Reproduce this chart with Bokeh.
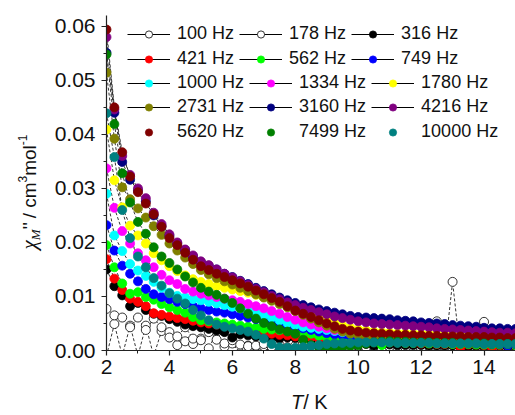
from bokeh.plotting import figure
from bokeh.models import (Range1d, SingleIntervalTicker, NumeralTickFormatter,
                          Legend, LegendItem, Div)
from bokeh.layouts import row, column
from bokeh.embed import file_html
from bokeh.resources import INLINE

# ---------------- data ----------------
temperature = [2.00, 2.25, 2.50, 2.75, 3.00, 3.25, 3.50, 3.75, 4.00, 4.25, 4.50,
               4.75, 5.00, 5.25, 5.50, 5.75, 6.00, 6.25, 6.50, 6.75, 7.00, 7.25,
               7.50, 7.75, 8.00, 8.25, 8.50, 8.75, 9.00, 9.25, 9.50, 9.75, 10.00,
               10.25, 10.50, 10.75, 11.00, 11.25, 11.50, 11.75, 12.00, 12.25, 12.50,
               12.75, 13.00, 13.25, 13.50, 13.75, 14.00, 14.25, 14.50, 14.75, 15.00]

chi_100 = [-0.0010, 0.0049, -0.0010, 0.0046, -0.0010, 0.0046, -0.0010, 0.0036, 0.0034, 0.0010,
           0.0017, 0.0012, 0.0022, 0.0004, 0.0034, 0.0007, 0.0013, -0.0005, 0.0009, -0.0005,
           0.0008, -0.0005, 0.0005, -0.0005, 0.0006, -0.0005, 0.0004, -0.0005, 0.0005, -0.0005,
           0.0003, 0.0015, -0.0005, 0.0004, -0.0005, 0.0006, -0.0005, 0.0003, -0.0005, 0.0004,
           -0.0005, 0.0003, 0.0054, -0.0005, 0.0127, -0.0005, 0.0006, -0.0005, 0.0053, -0.0005,
           0.0004, -0.0005, 0.0005]
chi_178 = [0.0077, 0.0065, 0.0061, 0.0043, 0.0061, 0.0038, 0.0059, 0.0043, 0.0024, 0.0026,
           0.0043, 0.0022, 0.0019, 0.0034, 0.0020, 0.0013, 0.0019, 0.0011, 0.0008, 0.0009,
           0.0012, 0.0007, 0.0010, 0.0006, 0.0009, 0.0012, 0.0005, 0.0007, 0.0011, 0.0006,
           0.0008, 0.0005, 0.0009, 0.0006, 0.0008, 0.0005, 0.0007, 0.0009, 0.0006, 0.0007,
           0.0005, 0.0008, 0.0006, 0.0007, 0.0005, 0.0006, 0.0008, 0.0005, 0.0007, 0.0006,
           0.0012, 0.0007, 0.0006]
chi_316 = [0.0150, 0.0119, 0.0102, 0.0082, 0.0088, 0.0075, 0.0068, 0.0064, 0.0058, 0.0053,
           0.0048, 0.0045, 0.0043, 0.0040, 0.0037, 0.0034, 0.0024, 0.0030, 0.0028, 0.0026,
           0.0024, 0.0023, 0.0022, 0.0024, 0.0023, 0.0022, 0.0020, 0.0028, 0.0018, 0.0016,
           0.0015, 0.0014, 0.0013, 0.0012, 0.0009, 0.0011, 0.0011, 0.0010, 0.0010, 0.0010,
           0.0010, 0.0009, 0.0009, 0.0009, 0.0009, 0.0007, 0.0008, 0.0008, 0.0008, 0.0008,
           0.0008, 0.0008, 0.0008]
chi_421 = [0.0169, 0.0133, 0.0112, 0.0096, 0.0090, 0.0082, 0.0069, 0.0066, 0.0063, 0.0060,
           0.0058, 0.0055, 0.0052, 0.0050, 0.0048, 0.0046, 0.0044, 0.0042, 0.0039, 0.0036,
           0.0033, 0.0031, 0.0029, 0.0028, 0.0026, 0.0025, 0.0024, 0.0022, 0.0021, 0.0020,
           0.0019, 0.0019, 0.0018, 0.0017, 0.0017, 0.0016, 0.0015, 0.0015, 0.0014, 0.0014,
           0.0013, 0.0013, 0.0012, 0.0012, 0.0012, 0.0006, 0.0011, 0.0011, 0.0010, 0.0006,
           0.0010, 0.0010, 0.0010]
chi_562 = [0.0195, 0.0154, 0.0124, 0.0105, 0.0108, 0.0099, 0.0094, 0.0086, 0.0080, 0.0075,
           0.0070, 0.0062, 0.0056, 0.0054, 0.0052, 0.0050, 0.0048, 0.0046, 0.0044, 0.0042,
           0.0040, 0.0039, 0.0038, 0.0038, 0.0037, 0.0034, 0.0031, 0.0027, 0.0024, 0.0021,
           0.0019, 0.0018, 0.0018, 0.0017, 0.0016, 0.0010, 0.0015, 0.0015, 0.0014, 0.0014,
           0.0014, 0.0013, 0.0013, 0.0013, 0.0012, 0.0012, 0.0012, 0.0011, 0.0011, 0.0011,
           0.0011, 0.0010, 0.0010]
chi_749 = [0.0232, 0.0185, 0.0157, 0.0142, 0.0128, 0.0114, 0.0104, 0.0099, 0.0095, 0.0090,
           0.0086, 0.0082, 0.0078, 0.0075, 0.0072, 0.0070, 0.0067, 0.0064, 0.0061, 0.0058,
           0.0055, 0.0052, 0.0049, 0.0046, 0.0044, 0.0041, 0.0038, 0.0035, 0.0032, 0.0030,
           0.0028, 0.0026, 0.0025, 0.0024, 0.0023, 0.0022, 0.0021, 0.0020, 0.0020, 0.0019,
           0.0019, 0.0018, 0.0018, 0.0017, 0.0017, 0.0017, 0.0016, 0.0016, 0.0015, 0.0015,
           0.0014, 0.0009, 0.0012]
chi_1000 = [0.0290, 0.0213, 0.0184, 0.0160, 0.0148, 0.0138, 0.0127, 0.0116, 0.0107, 0.0101,
            0.0098, 0.0095, 0.0093, 0.0090, 0.0087, 0.0084, 0.0081, 0.0078, 0.0074, 0.0070,
            0.0066, 0.0061, 0.0056, 0.0051, 0.0047, 0.0044, 0.0042, 0.0040, 0.0038, 0.0036,
            0.0034, 0.0032, 0.0030, 0.0029, 0.0028, 0.0027, 0.0026, 0.0025, 0.0025, 0.0024,
            0.0024, 0.0023, 0.0023, 0.0022, 0.0022, 0.0022, 0.0021, 0.0021, 0.0021, 0.0020,
            0.0020, 0.0020, 0.0020]
chi_1334 = [0.0337, 0.0264, 0.0221, 0.0198, 0.0180, 0.0167, 0.0154, 0.0140, 0.0130, 0.0123,
            0.0114, 0.0109, 0.0105, 0.0102, 0.0099, 0.0096, 0.0093, 0.0090, 0.0086, 0.0082,
            0.0078, 0.0073, 0.0068, 0.0062, 0.0057, 0.0052, 0.0048, 0.0044, 0.0041, 0.0038,
            0.0036, 0.0035, 0.0034, 0.0033, 0.0032, 0.0031, 0.0030, 0.0029, 0.0029, 0.0028,
            0.0027, 0.0027, 0.0026, 0.0026, 0.0025, 0.0025, 0.0025, 0.0024, 0.0024, 0.0024,
            0.0023, 0.0023, 0.0023]
chi_1780 = [0.0409, 0.0315, 0.0265, 0.0231, 0.0213, 0.0198, 0.0180, 0.0167, 0.0156, 0.0147,
            0.0139, 0.0132, 0.0127, 0.0123, 0.0119, 0.0116, 0.0113, 0.0110, 0.0107, 0.0103,
            0.0099, 0.0094, 0.0089, 0.0084, 0.0079, 0.0073, 0.0067, 0.0061, 0.0056, 0.0051,
            0.0046, 0.0042, 0.0039, 0.0037, 0.0035, 0.0034, 0.0033, 0.0032, 0.0032, 0.0031,
            0.0031, 0.0030, 0.0030, 0.0029, 0.0029, 0.0029, 0.0028, 0.0028, 0.0028, 0.0027,
            0.0027, 0.0027, 0.0026]
chi_2731 = [0.0514, 0.0392, 0.0302, 0.0280, 0.0263, 0.0246, 0.0230, 0.0214, 0.0198, 0.0185,
            0.0172, 0.0160, 0.0149, 0.0141, 0.0134, 0.0128, 0.0122, 0.0116, 0.0110, 0.0104,
            0.0098, 0.0092, 0.0086, 0.0080, 0.0073, 0.0066, 0.0059, 0.0052, 0.0046, 0.0040,
            0.0035, 0.0031, 0.0028, 0.0026, 0.0025, 0.0024, 0.0023, 0.0022, 0.0021, 0.0021,
            0.0020, 0.0020, 0.0019, 0.0019, 0.0018, 0.0018, 0.0018, 0.0017, 0.0017, 0.0017,
            0.0016, 0.0016, 0.0016]
chi_3160 = [0.0551, 0.0440, 0.0349, 0.0316, 0.0296, 0.0276, 0.0250, 0.0230, 0.0212, 0.0198,
            0.0186, 0.0174, 0.0164, 0.0157, 0.0150, 0.0142, 0.0136, 0.0129, 0.0123, 0.0116,
            0.0110, 0.0104, 0.0098, 0.0093, 0.0088, 0.0084, 0.0080, 0.0076, 0.0073, 0.0070,
            0.0067, 0.0064, 0.0062, 0.0061, 0.0060, 0.0059, 0.0058, 0.0056, 0.0055, 0.0054,
            0.0052, 0.0051, 0.0050, 0.0049, 0.0047, 0.0046, 0.0045, 0.0044, 0.0042, 0.0041,
            0.0041, 0.0040, 0.0040]
chi_4216 = [0.0580, 0.0446, 0.0360, 0.0325, 0.0300, 0.0282, 0.0255, 0.0234, 0.0215, 0.0200,
            0.0187, 0.0176, 0.0165, 0.0158, 0.0150, 0.0142, 0.0135, 0.0128, 0.0121, 0.0114,
            0.0108, 0.0101, 0.0095, 0.0089, 0.0084, 0.0079, 0.0075, 0.0071, 0.0067, 0.0063,
            0.0060, 0.0057, 0.0054, 0.0052, 0.0050, 0.0049, 0.0048, 0.0047, 0.0046, 0.0045,
            0.0044, 0.0043, 0.0041, 0.0040, 0.0039, 0.0038, 0.0037, 0.0036, 0.0035, 0.0034,
            0.0033, 0.0033, 0.0032]
chi_5620 = [0.0594, 0.0450, 0.0367, 0.0322, 0.0293, 0.0272, 0.0252, 0.0229, 0.0208, 0.0195,
            0.0181, 0.0168, 0.0156, 0.0149, 0.0142, 0.0136, 0.0130, 0.0124, 0.0118, 0.0111,
            0.0104, 0.0097, 0.0090, 0.0082, 0.0074, 0.0068, 0.0062, 0.0056, 0.0050, 0.0045,
            0.0040, 0.0037, 0.0035, 0.0033, 0.0032, 0.0031, 0.0030, 0.0029, 0.0029, 0.0028,
            0.0028, 0.0027, 0.0027, 0.0026, 0.0026, 0.0026, 0.0025, 0.0025, 0.0025, 0.0024,
            0.0024, 0.0023, 0.0023]
chi_7499 = [0.0548, 0.0419, 0.0328, 0.0274, 0.0238, 0.0216, 0.0191, 0.0174, 0.0162, 0.0150,
            0.0137, 0.0126, 0.0116, 0.0109, 0.0103, 0.0096, 0.0088, 0.0078, 0.0068, 0.0059,
            0.0051, 0.0045, 0.0039, 0.0035, 0.0031, 0.0020, 0.0010, 0.0007, 0.0006, 0.0006,
            0.0007, 0.0008, 0.0010, 0.0013, 0.0015, 0.0016, 0.0017, 0.0016, 0.0016, 0.0015,
            0.0015, 0.0015, 0.0014, 0.0014, 0.0014, 0.0013, 0.0013, 0.0013, 0.0013, 0.0012,
            0.0012, 0.0012, 0.0012]
chi_10000 = [0.0439, 0.0358, 0.0260, 0.0208, 0.0174, 0.0154, 0.0134, 0.0120, 0.0106, 0.0096,
             0.0087, 0.0075, 0.0065, 0.0056, 0.0048, 0.0044, 0.0041, 0.0038, 0.0035, 0.0029,
             0.0022, 0.0012, 0.0006, 0.0005, 0.0005, 0.0006, 0.0008, 0.0010, 0.0012, 0.0013,
             0.0014, 0.0014, 0.0015, 0.0015, 0.0015, 0.0015, 0.0015, 0.0014, 0.0014, 0.0014,
             0.0014, 0.0014, 0.0013, 0.0013, 0.0013, 0.0013, 0.0013, 0.0013, 0.0012, 0.0012,
             0.0012, 0.0012, 0.0012]

frequency_labels = ["100 Hz", "178 Hz", "316 Hz", "421 Hz", "562 Hz", "749 Hz",
                    "1000 Hz", "1334 Hz", "1780 Hz", "2731 Hz", "3160 Hz", "4216 Hz",
                    "5620 Hz", "7499 Hz", "10000 Hz"]
series_values = [chi_100, chi_178, chi_316, chi_421, chi_562, chi_749, chi_1000, chi_1334,
                 chi_1780, chi_2731, chi_3160, chi_4216, chi_5620, chi_7499, chi_10000]
fill_colors = ["white", "white", "#000000", "#FF0000", "#00FF00", "#0000FF", "#00FFFF",
               "#FF00FF", "#FFFF00", "#808000", "#000080", "#800080", "#800000", "#008000",
               "#008080"]

FONT = "Liberation Sans"

p = figure(width=467, height=390, output_backend="svg", toolbar_location=None,
           x_range=Range1d(2, 15), y_range=Range1d(0, 0.062),
           min_border_left=58, min_border_right=0, min_border_top=15,
           min_border_bottom=40)
p.outline_line_color = None
p.xgrid.visible = False
p.ygrid.visible = False
p.background_fill_color = "white"
p.border_fill_color = "white"

p.xaxis.ticker = SingleIntervalTicker(interval=2, num_minor_ticks=2)
p.yaxis.ticker = SingleIntervalTicker(interval=0.01, num_minor_ticks=2)
p.yaxis.formatter = NumeralTickFormatter(format="0.00")
for ax in (p.xaxis, p.yaxis):
    ax.axis_line_color = "#222222"
    ax.axis_line_width = 1.2
    ax.major_tick_line_color = "#222222"
    ax.minor_tick_line_color = "#222222"
    ax.major_tick_line_width = 1.2
    ax.minor_tick_line_width = 1.0
    ax.major_tick_in = 0
    ax.major_tick_out = 5
    ax.minor_tick_in = 0
    ax.minor_tick_out = 3
    ax.major_label_text_font = FONT
    ax.major_label_text_font_size = "21px"
    ax.major_label_text_color = "#111111"
p.xaxis.major_label_standoff = 4
p.yaxis.major_label_standoff = 6

# dashed connecting lines
for vals in series_values:
    p.line(temperature, vals, line_color="black", line_width=0.8, line_dash="3 2")

# markers
marker_renderers = []
for vals, fc in zip(series_values, fill_colors):
    lc = "black" if fc == "white" else fc
    r = p.scatter(temperature, vals, marker="circle", size=9, fill_color=fc,
                  line_color=lc, line_width=0.8)
    marker_renderers.append(r)

# solid line renderer (a single point, so nothing shows in the plot) used as legend glyph
legend_line = p.line(temperature[:1], chi_5620[:1], line_color="black", line_width=1)

row_bottoms = [306, 281, 257, 233, 208]
for rw in range(5):
    items = []
    for k in range(rw * 3, rw * 3 + 3):
        rends = ([legend_line] if k < 12 else []) + [marker_renderers[k]]
        items.append(LegendItem(label=frequency_labels[k], renderers=rends))
    lg = Legend(items=items, orientation="horizontal", location=(21, row_bottoms[rw]),
                glyph_width=43, glyph_height=18, label_height=18, label_standoff=7,
                spacing=5, padding=0, margin=0, label_text_font=FONT,
                label_text_font_size="18px", label_text_color="#111111",
                background_fill_alpha=0, border_line_alpha=0)
    p.add_layout(lg)

# axis titles as HTML so that italics, sub- and superscripts are possible
small = "line-height:0;font-size:12px;vertical-align:9px;"
ylabel_html = (
    '<div style="position:relative;width:48px;height:390px;">'
    '<div style="position:absolute;left:30px;top:192px;'
    'transform:translate(-50%,-50%) rotate(-90deg);white-space:nowrap;'
    "font-family:'Liberation Sans',sans-serif;font-size:19px;line-height:22px;color:#111;\">"
    "<span style=\"line-height:0;font-family:'Liberation Serif',serif;font-style:italic;font-size:21px;\">χ</span>"
    "<span style=\"line-height:0;font-family:'Liberation Serif',serif;font-style:italic;font-size:13px;vertical-align:-4px;\">M</span>"
    "<span style=\"line-height:0;\">''&thinsp;/ cm</span>"
    f'<span style="{small}">3</span>'
    '<span style="line-height:0;">mol</span>'
    f'<span style="{small}">-1</span>'
    '</div></div>'
)
xlabel_html = (
    '<div style="position:relative;width:515px;height:25px;">'
    '<div style="position:absolute;left:291px;top:2px;white-space:nowrap;'
    "font-family:'Liberation Sans',sans-serif;font-size:20px;line-height:20px;color:#111;\">"
    '<i>T</i>/ K</div></div>'
)
ylab = Div(text=ylabel_html, width=48, height=390, margin=0)
xlab = Div(text=xlabel_html, width=515, height=25, margin=0)

layout = column(row(ylab, p, spacing=0), xlab, spacing=0)

open("out.html", "w").write(file_html(layout, INLINE))
